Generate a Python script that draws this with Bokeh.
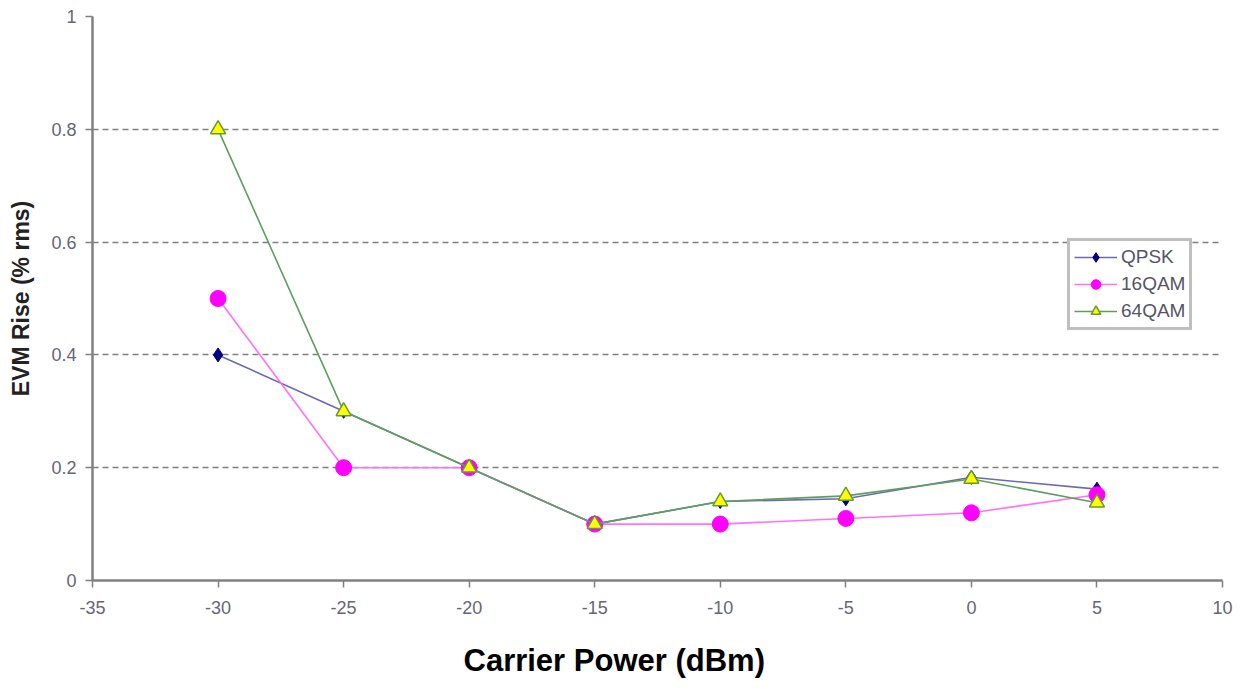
from bokeh.plotting import figure
from bokeh.models import (ColumnDataSource, FixedTicker, Legend, LegendItem, Range1d,
                          CustomJSTickFormatter, Title)
from bokeh.embed import file_html
from bokeh.resources import INLINE

power = [-30, -25, -20, -15, -10, -5, 0, 5]
qpsk = [0.40, 0.30, 0.20, 0.10, 0.14, 0.145, 0.183, 0.162]
qam16 = [0.50, 0.20, 0.20, 0.10, 0.10, 0.11, 0.12, 0.152]
qam64 = [0.80, 0.30, 0.20, 0.10, 0.14, 0.15, 0.18, 0.138]
x_ticks = [-35, -30, -25, -20, -15, -10, -5, 0, 5, 10]
y_ticks = [0, 0.2, 0.4, 0.6, 0.8, 1]
grid_ticks = [0.2, 0.4, 0.6, 0.8]

p = figure(width=1241, height=688, output_backend="svg", toolbar_location=None,
           x_range=Range1d(-35, 10), y_range=Range1d(0, 1),
           min_border_left=92, min_border_right=19, min_border_top=16, min_border_bottom=102)
p.outline_line_color = None
p.background_fill_color = "white"

src = ColumnDataSource(dict(x=power, q=qpsk, a=qam16, b=qam64))

l1 = p.line("x", "q", source=src, line_color="#6b6bb0", line_width=1.6)
m1 = p.scatter("x", "q", source=src, marker="diamond", size=14, fill_color="#000080", line_color="#000080")
l2 = p.line("x", "a", source=src, line_color="#ff70ff", line_width=1.6)
m2 = p.scatter("x", "a", source=src, marker="circle", size=16, fill_color="#ff00ff", line_color="#ff00ff")
l3 = p.line("x", "b", source=src, line_color="#5e9e5e", line_width=1.6)
m3 = p.scatter("x", "b", source=src, marker="triangle", size=15, fill_color="#ffff00", line_color="#669933", line_width=1.5)

p.xaxis.ticker = FixedTicker(ticks=x_ticks)
p.yaxis.ticker = FixedTicker(ticks=y_ticks)
p.ygrid.ticker = FixedTicker(ticks=grid_ticks)
p.xgrid.grid_line_color = None
p.ygrid.grid_line_color = "#808080"
p.ygrid.grid_line_dash = "6 4"
p.ygrid.grid_line_width = 1.5

fmt = CustomJSTickFormatter(code="return tick.toString();")
for ax in (p.xaxis, p.yaxis):
    ax.formatter = fmt
    ax.axis_line_color = "#808080"
    ax.axis_line_width = 2.5
    ax.major_tick_line_color = "#808080"
    ax.major_tick_line_width = 1.5
    ax.major_tick_out = 7
    ax.major_tick_in = 0
    ax.minor_tick_line_color = None
    ax.major_label_text_font = "Liberation Sans"
    ax.major_label_text_font_size = "18px"
    ax.major_label_text_color = "#666677"

p.xaxis.major_label_standoff = 13
p.yaxis.major_label_standoff = 9

# blank spacer label pushes the title below down a little
p.xaxis.axis_label = " "
p.xaxis.axis_label_text_font_size = "9px"
p.xaxis.axis_label_standoff = 0

xtitle = Title(text="Carrier Power (dBm)", align="left", offset=371, standoff=22,
               vertical_align="bottom",
               text_font="Liberation Sans", text_font_style="bold",
               text_font_size="31px", text_color="black")
p.add_layout(xtitle, "below")

p.yaxis.axis_label = "EVM Rise (% rms)"
p.yaxis.axis_label_text_font = "Liberation Sans"
p.yaxis.axis_label_text_font_style = "bold"
p.yaxis.axis_label_text_font_size = "23px"
p.yaxis.axis_label_text_color = "#222222"
p.yaxis.axis_label_standoff = 14

legend = Legend(items=[LegendItem(label="QPSK", renderers=[l1, m1]),
                       LegendItem(label="16QAM", renderers=[l2, m2]),
                       LegendItem(label="64QAM", renderers=[l3, m3])],
                location=(975, 250), border_line_color="#808080", border_line_width=3,
                label_text_font="Liberation Sans", label_text_font_size="19px",
                label_text_color="#555566", glyph_width=43, glyph_height=24,
                spacing=3, padding=4, margin=0, label_standoff=4,
                background_fill_alpha=1)
p.add_layout(legend, "center")

open("out.html", "w").write(file_html(p, INLINE))
